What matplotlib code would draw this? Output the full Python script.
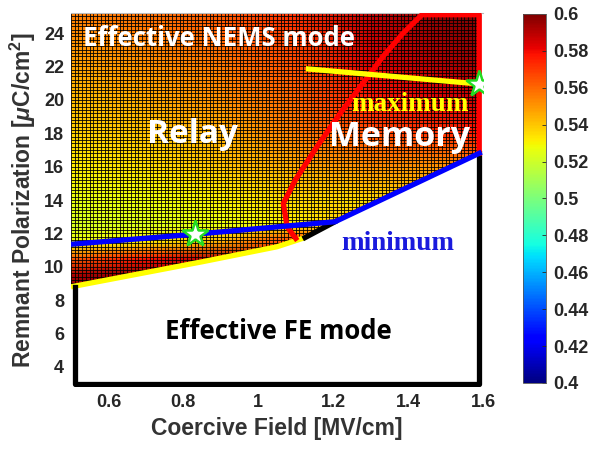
import matplotlib
matplotlib.use('Agg')
import matplotlib.pyplot as plt
import numpy as np
from matplotlib.patches import Polygon

plt.rcParams['mathtext.fontset'] = 'custom'
plt.rcParams['mathtext.rm'] = 'Liberation Sans:bold'
plt.rcParams['mathtext.it'] = 'Liberation Sans:italic:bold'

# field values (rows = Pr, columns = Ec)
field_ec = [0.5, 0.7, 0.9, 1.1, 1.3, 1.5, 1.6]
field_pr = [8.5, 9.5, 10.5, 11.5, 12.5, 14, 16, 18, 20, 22, 24, 25.2]
field_z = [
    [0.600, 0.600, 0.600, 0.600, 0.600, 0.600, 0.600],
    [0.592, 0.600, 0.600, 0.600, 0.600, 0.600, 0.600],
    [0.562, 0.578, 0.592, 0.600, 0.600, 0.600, 0.600],
    [0.528, 0.532, 0.545, 0.572, 0.575, 0.580, 0.582],
    [0.522, 0.524, 0.527, 0.532, 0.545, 0.560, 0.565],
    [0.526, 0.528, 0.531, 0.536, 0.536, 0.540, 0.545],
    [0.532, 0.535, 0.540, 0.546, 0.552, 0.550, 0.556],
    [0.537, 0.540, 0.545, 0.555, 0.566, 0.572, 0.578],
    [0.542, 0.546, 0.551, 0.560, 0.576, 0.584, 0.588],
    [0.547, 0.551, 0.556, 0.565, 0.583, 0.591, 0.594],
    [0.552, 0.556, 0.561, 0.570, 0.587, 0.596, 0.598],
    [0.555, 0.558, 0.563, 0.572, 0.589, 0.598, 0.600],
]

# boundary lines
low_yellow_ec = [0.5, 0.85, 1.05, 1.125]
low_yellow_pr = [8.8, 10.3, 11.2, 11.75]
black_seg_ec = [1.125, 1.205]
black_seg_pr = [11.75, 12.7]
blue_ec = [0.5, 0.83, 1.205, 1.59]
blue_pr = [11.35, 11.95, 12.7, 16.8]
red_ec = [1.10, 1.077, 1.067, 1.099, 1.157, 1.219, 1.273, 1.333, 1.387, 1.437, 1.59, 1.59]
red_pr = [11.7, 12.4, 13.8, 15.2, 17.2, 19.2, 20.8, 22.6, 24.0, 25.1, 25.1, 16.8]
max_ec = [1.134, 1.59]
max_pr = [21.85, 20.95]
frame_ec = [0.51, 0.51, 1.59, 1.59]
frame_pr = [8.8, 3.0, 3.0, 16.8]
stars_ec = [0.83, 1.59]
stars_pr = [11.95, 20.95]

xmin, xmax, ymin, ymax = 0.5, 1.6, 2.8, 25.2
tick_color = '#262626'

fig = plt.figure(figsize=(5.89, 4.5), dpi=100)
ax = fig.add_axes([0.1205, 0.14, 0.6995, 0.831])

mesh = ax.pcolormesh(field_ec, field_pr, np.array(field_z), shading='gouraud',
                     cmap='jet', vmin=0.4, vmax=0.6, zorder=1)

# region of the colour map: above the lower boundary
region = [(xmin, ymax), (1.59, ymax)]
region += list(zip(blue_ec[::-1], blue_pr[::-1]))[:2]
region += list(zip(low_yellow_ec[::-1], low_yellow_pr[::-1]))
clip = Polygon(region, closed=True, transform=ax.transData, facecolor='none', edgecolor='none')
ax.add_patch(clip)
mesh.set_clip_path(clip)

# surface mesh lines
vl = ax.vlines(np.arange(xmin, 1.59, 0.01), ymin, ymax, color='k', lw=0.7, alpha=0.85, zorder=2)
hl = ax.hlines(np.arange(8.0, ymax, 0.2), xmin, xmax, color='k', lw=0.7, alpha=0.85, zorder=2)
vl.set_clip_path(clip)
hl.set_clip_path(clip)

lw = 3.8
ax.plot(low_yellow_ec, low_yellow_pr, color='#ffff00', lw=lw, zorder=3, solid_capstyle='butt')
ax.plot(frame_ec, frame_pr, color='k', lw=lw, zorder=3)
ax.plot(black_seg_ec, black_seg_pr, color='k', lw=lw, zorder=3)
ax.plot(red_ec, red_pr, color='#ff0000', lw=lw, zorder=4)
ax.plot(blue_ec, blue_pr, color='#0000ff', lw=lw, zorder=5)
ax.plot(max_ec, max_pr, color='#ffff00', lw=lw, zorder=5)
ax.plot(stars_ec, stars_pr, ls='none', marker='*', ms=20, mfc='white', mec='#22dd22', mew=1.8, zorder=6)

sans = 'Open Sans'
ax.text(0.533, 23.7, 'Effective NEMS mode', color='white', fontsize=18.5, fontweight='bold',
        family=sans, ha='left', va='center', zorder=7)
ax.text(0.824, 17.9, 'Relay', color='white', fontsize=24, fontweight='bold',
        family=sans, ha='center', va='center', zorder=7)
ax.text(1.376, 17.8, 'Memory', color='white', fontsize=24.5, fontweight='bold',
        family=sans, ha='center', va='center', zorder=7)
ax.text(1.404, 19.7, 'maximum', color='#ffff00', fontsize=19.5, fontweight='bold',
        family='Liberation Serif', ha='center', va='center', zorder=7)
ax.text(1.373, 11.4, 'minimum', color='#1a1add', fontsize=19.5, fontweight='bold',
        family='Liberation Serif', ha='center', va='center', zorder=7)
ax.text(1.055, 6.1, 'Effective FE mode', color='black', fontsize=18.5, fontweight='bold',
        family=sans, ha='center', va='center', zorder=7)

ax.set_xlim(xmin, xmax)
ax.set_ylim(ymin, ymax)
ax.set_xticks([0.6, 0.8, 1.0, 1.2, 1.4, 1.6])
ax.set_xticklabels(['0.6', '0.8', '1', '1.2', '1.4', '1.6'])
ax.set_yticks(np.arange(4, 25, 2))
ax.tick_params(length=0, labelsize=13, colors=tick_color, pad=5)
for lab in ax.get_xticklabels() + ax.get_yticklabels():
    lab.set_fontweight('bold')
    lab.set_family('Liberation Sans')
for side in ['left', 'right', 'bottom']:
    ax.spines[side].set_visible(False)
ax.spines['top'].set_color('#bbbbbb')
ax.spines['top'].set_linewidth(0.8)

ax.set_xlabel('Coercive Field [MV/cm]', fontsize=16.5, fontweight='bold', family='Liberation Sans',
              color='#333333', labelpad=4)
ax.set_ylabel(r'Remnant Polarization [$\mu$C/cm$^2$]', fontsize=16.5, fontweight='bold',
              family='Liberation Sans', color='#333333', labelpad=4)

cax = fig.add_axes([0.888, 0.149, 0.039, 0.82])
cb = fig.colorbar(mesh, cax=cax)
cb.set_ticks(np.arange(0.4, 0.601, 0.02))
cb.set_ticklabels(['0.4', '0.42', '0.44', '0.46', '0.48', '0.5', '0.52', '0.54', '0.56', '0.58', '0.6'])
cax.tick_params(direction='in', length=3, width=0.6, labelsize=13, colors=tick_color, pad=5)
for lab in cax.get_yticklabels():
    lab.set_fontweight('bold')
    lab.set_family('Liberation Sans')
cb.outline.set_linewidth(0.6)
cb.outline.set_edgecolor('#555555')

fig.savefig('out.png', dpi=100)
